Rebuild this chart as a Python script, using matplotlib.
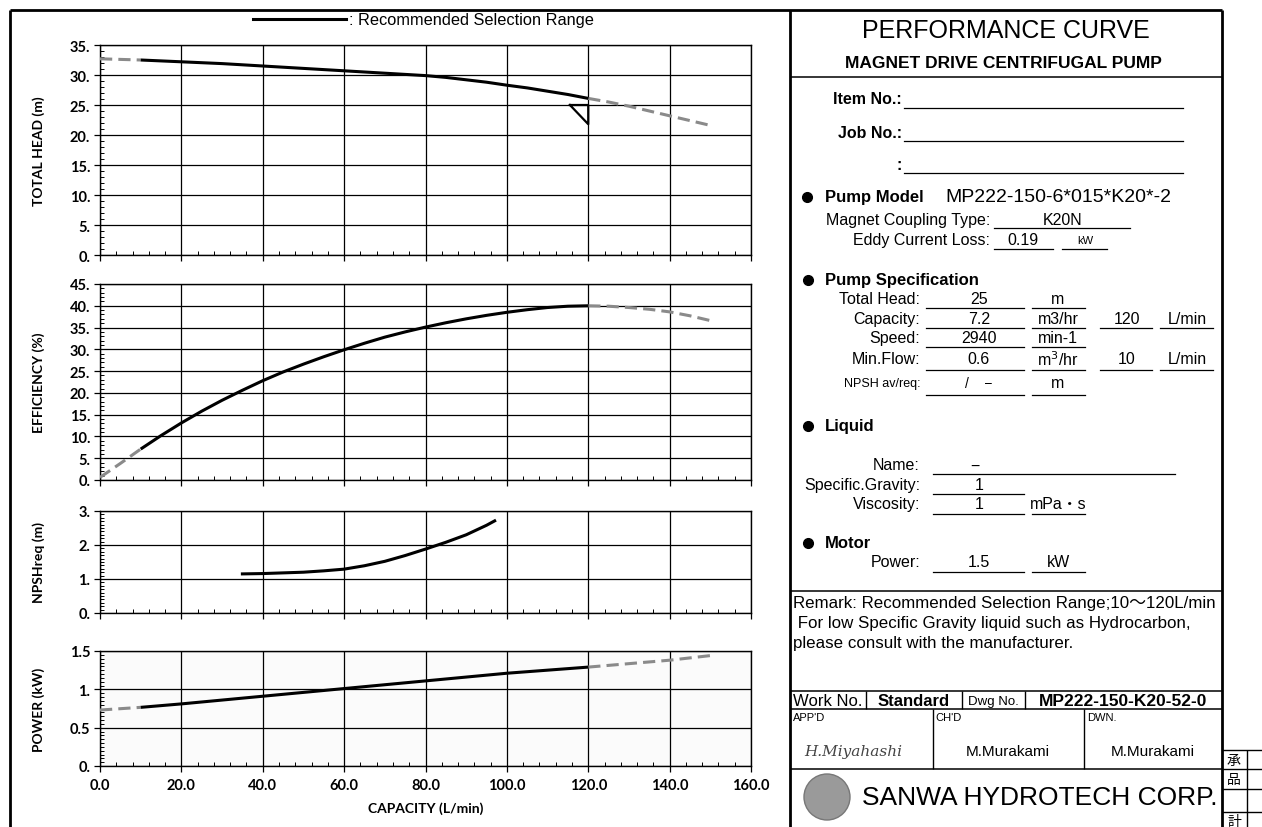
import numpy as np
import matplotlib
matplotlib.use("Agg")
import matplotlib.pyplot as plt
from matplotlib.ticker import MultipleLocator, FuncFormatter
from matplotlib.patches import Circle

q_head = [0, 10, 20, 30, 40, 50, 60, 70, 80, 85, 90, 95, 100, 105, 110, 115, 120,
          125, 130, 135, 140, 145, 150]
head = [32.7, 32.5, 32.2, 31.9, 31.5, 31.1, 30.7, 30.3, 29.9, 29.6, 29.2, 28.8, 28.3,
        27.85, 27.3, 26.75, 26.1, 25.5, 24.8, 24.0, 23.2, 22.4, 21.6]

q_eff = [0, 5, 10, 15, 20, 25, 30, 35, 40, 45, 50, 55, 60, 65, 70, 75, 80, 85, 90,
         95, 100, 105, 110, 115, 120, 125, 130, 135, 140, 145, 150]
eff = [0.6, 3.8, 7.1, 10.2, 13.1, 15.8, 18.3, 20.6, 22.8, 24.8, 26.6, 28.3, 29.9,
       31.4, 32.8, 34.0, 35.1, 36.1, 37.0, 37.8, 38.5, 39.1, 39.6, 39.9, 40.0, 39.9,
       39.6, 39.2, 38.6, 37.7, 36.6]

q_npsh = [35, 40, 45, 50, 55, 60, 65, 70, 75, 80, 85, 90, 95, 97]
npsh = [1.15, 1.16, 1.18, 1.20, 1.24, 1.29, 1.39, 1.52, 1.69, 1.88, 2.08, 2.30, 2.58, 2.71]

q_pow = [0, 10, 20, 30, 40, 50, 60, 70, 80, 90, 100, 110, 120, 130, 140, 150]
power = [0.73, 0.765, 0.81, 0.86, 0.91, 0.96, 1.01, 1.06, 1.11, 1.16, 1.21, 1.25, 1.29,
         1.335, 1.38, 1.44]

rec_min, rec_max = 10, 120      # recommended selection range (L/min)
duty_q, duty_h = 120, 25        # duty point

W, H = 1262, 828
fig = plt.figure(figsize=(W / 100, H / 100), dpi=100)

# background axes in pixel coordinates for frame and title block
bg = fig.add_axes([0, 0, 1, 1])
bg.set_xlim(0, W)
bg.set_ylim(H, 0)
bg.axis("off")
bg.patch.set_alpha(0)

TXT = ["Liberation Sans", "Noto Sans CJK JP", "DejaVu Sans"]
AXF = ["Lato", "DejaVu Sans"]


def px_axes(x0, y0, x1, y1):
    return fig.add_axes([x0 / W, 1 - y1 / H, (x1 - x0) / W, (y1 - y0) / H])


def draw_curve(ax, q, v, split=True):
    q = np.array(q, float)
    v = np.array(v, float)
    if split:
        lo = q <= rec_min
        hi = q >= rec_max
        mid = (q >= rec_min) & (q <= rec_max)
        for m in (lo, hi):
            if m.sum() > 1:
                ax.plot(q[m], v[m], color="#8a8a8a", lw=2.2, ls=(0, (4, 2)), zorder=3)
        ax.plot(q[mid], v[mid], color="black", lw=2.2, zorder=4, solid_capstyle="butt")
    else:
        ax.plot(q, v, color="black", lw=2.2, zorder=4)


def style_axes(ax, ymax, ymaj, ymin_, fmt, label, xlabels=False):
    ax.set_xlim(0, 160)
    ax.set_ylim(0, ymax)
    ax.xaxis.set_major_locator(MultipleLocator(20))
    ax.xaxis.set_minor_locator(MultipleLocator(4))
    ax.yaxis.set_major_locator(MultipleLocator(ymaj))
    ax.yaxis.set_minor_locator(MultipleLocator(ymin_))
    ax.grid(True, which="major", color="black", lw=0.9)
    ax.set_axisbelow(True)
    for s in ax.spines.values():
        s.set_linewidth(1.0)
        s.set_color("black")
    ax.tick_params(which="major", direction="out", length=4, width=0.9, pad=3)
    ax.tick_params(which="minor", direction="in", length=3, width=0.7)
    ax.yaxis.set_major_formatter(FuncFormatter(fmt))
    for tl in ax.get_yticklabels():
        tl.set_fontfamily(AXF)
        tl.set_fontweight("bold")
        tl.set_fontsize(10.5)
    if xlabels:
        ax.xaxis.set_major_formatter(FuncFormatter(lambda v, p: f"{v:.1f}"))
        for tl in ax.get_xticklabels():
            tl.set_fontfamily(AXF)
            tl.set_fontweight("bold")
            tl.set_fontsize(10.5)
        ax.tick_params(axis="x", which="major", pad=5)
        ax.set_xlabel("CAPACITY (L/min)", fontfamily=AXF, fontweight="bold", fontsize=10)
        ax.xaxis.set_label_coords(0.5, -0.31)
    else:
        ax.set_xticklabels([])
    ax.set_ylabel(label, fontfamily=AXF, fontweight="bold", fontsize=10)
    ax.yaxis.set_label_coords(-0.085, 0.5)


int_fmt = lambda v, p: f"{v:.0f}."
pow_fmt = lambda v, p: f"{v:.0f}." if abs(v - round(v)) < 1e-6 else f"{v:.1f}"

ax1 = px_axes(100, 46, 751, 256)
draw_curve(ax1, q_head, head)
ax1.plot([duty_q - 4.5, duty_q, duty_q, duty_q - 4.5],
         [duty_h, duty_h, duty_h - 3.2, duty_h], color="black", lw=1.6, zorder=5)
style_axes(ax1, 35, 5, 1, int_fmt, "TOTAL HEAD (m)")

ax2 = px_axes(100, 285, 751, 481)
draw_curve(ax2, q_eff, eff)
style_axes(ax2, 45, 5, 1, int_fmt, "EFFICIENCY (%)")

ax3 = px_axes(100, 512, 751, 614)
draw_curve(ax3, q_npsh, npsh, split=False)
style_axes(ax3, 3, 1, 0.1, int_fmt, "NPSHreq (m)")

ax4 = px_axes(100, 652, 751, 767)
ax4.set_facecolor("#fbfbfb")
draw_curve(ax4, q_pow, power)
style_axes(ax4, 1.5, 0.5, 0.05, pow_fmt, "POWER (kW)", xlabels=True)

# legend line at top
bg.plot([253, 346], [20, 20], color="black", lw=2.2)
bg.text(349, 20, ": Recommended Selection Range", fontsize=11.8, family=TXT, va="center", ha="left")

# ---- frame ----
K = dict(color="black", solid_capstyle="butt")
bg.plot([10, 1222], [11, 11], lw=2, **K)
bg.plot([10, 10], [11, H], lw=2, **K)
bg.plot([790, 790], [11, H], lw=2, **K)
bg.plot([1222, 1222], [11, H], lw=2, **K)
for y in (78, 592, 692, 710, 770):
    bg.plot([790, 1222], [y, y], lw=1.1, **K)
for x in (866, 962, 1025):
    bg.plot([x, x], [692, 710], lw=1.0, **K)
for x in (933, 1084):
    bg.plot([x, x], [710, 770], lw=1.0, **K)

# small stamp table
bg.plot([1222, 1262], [751, 751], lw=1.0, **K)
for y in (770, 790, 813):
    bg.plot([1222, 1262], [y, y], lw=1.0, **K)
bg.plot([1247, 1247], [751, H], lw=1.0, **K)
for ch, y in (("承", 761), ("品", 780), ("計", 822)):
    bg.text(1234, y, ch, fontsize=10, family=["Noto Sans CJK JP"], ha="center", va="center")


def t(x, y, s, size=11.5, ha="left", weight="normal", **kw):
    bg.text(x, y, s, fontsize=size, ha=ha, va="center", family=TXT, fontweight=weight, **kw)


def uline(x0, x1, y):
    bg.plot([x0, x1], [y, y], color="black", lw=0.9)


# ---- title block ----
t(1006, 31, "PERFORMANCE CURVE", size=18, ha="center")
t(1003, 63, "MAGNET DRIVE CENTRIFUGAL PUMP", size=12.5, ha="center", weight="bold")

t(902, 100, "Item No.:", size=11.5, ha="right", weight="bold")
uline(904, 1183, 109)
t(902, 133, "Job No.:", size=11.5, ha="right", weight="bold")
uline(904, 1183, 142)
t(902, 165, ":", size=11.5, ha="right", weight="bold")
uline(904, 1183, 174)

bg.plot([807], [198], "o", color="black", ms=7)
t(825, 198, "Pump Model", size=12, weight="bold")
t(945, 198, "MP222-150-6*015*K20*-2", size=14)
t(990, 221, "Magnet Coupling Type:", size=11.5, ha="right")
t(1063, 221, "K20N", size=11.5, ha="center")
uline(994, 1130, 229)
t(990, 241, "Eddy Current Loss:", size=11.5, ha="right")
t(1023, 241, "0.19", size=11.5, ha="center")
uline(994, 1053, 250)
t(1085, 241, "kW", size=8, ha="center")
uline(1062, 1107, 250)

bg.plot([808], [281], "o", color="black", ms=7)
t(825, 281, "Pump Specification", size=12, weight="bold")

spec = [("Total Head:", "25", "m", None, None, 300, 309),
        ("Capacity:", "7.2", "m3/hr", "120", "L/min", 320, 329),
        ("Speed:", "2940", "min-1", None, None, 339, 348),
        ("Min.Flow:", "0.6", "m$^3$/hr", "10", "L/min", 360, 371)]
for lab, val, unit, val2, unit2, ty, uy in spec:
    t(920, ty, lab, ha="right")
    t(979, ty, val, ha="center")
    uline(926, 1024, uy)
    t(1058, ty, unit, ha="center")
    uline(1032, 1085, uy)
    if val2:
        t(1127, ty, val2, ha="center")
        uline(1100, 1152, uy)
        t(1187, ty, unit2, ha="center")
        uline(1160, 1213, uy)
t(920, 384, "NPSH av/req:", size=9, ha="right")
t(979, 384, "/    −", size=10, ha="center")
uline(926, 1024, 396)
t(1058, 384, "m", ha="center")
uline(1032, 1085, 396)

bg.plot([808], [427], "o", color="black", ms=7)
t(825, 427, "Liquid", size=12, weight="bold")
t(920, 466, "Name:", ha="right")
t(975, 466, "−", ha="center")
uline(933, 1175, 475)
t(920, 486, "Specific.Gravity:", ha="right")
t(979, 486, "1", ha="center")
uline(933, 1024, 495)
t(920, 505, "Viscosity:", ha="right")
t(979, 505, "1", ha="center")
uline(933, 1024, 515)
t(1058, 505, "mPa・s", ha="center")
uline(1032, 1085, 515)

bg.plot([808], [544], "o", color="black", ms=7)
t(825, 544, "Motor", size=12, weight="bold")
t(920, 563, "Power:", ha="right")
t(979, 563, "1.5", ha="center")
uline(933, 1024, 573)
t(1058, 563, "kW", ha="center")
uline(1032, 1085, 573)

# remarks
t(793, 604, "Remark: Recommended Selection Range;10～120L/min", size=12.2)
t(793, 624, " For low Specific Gravity liquid such as Hydrocarbon,", size=12.2)
t(793, 644, "please consult with the manufacturer.", size=12.2)

t(793, 702, "Work No.", size=12)
t(914, 702, "Standard", size=12, ha="center", weight="bold")
t(993, 702, "Dwg No.", size=9.5, ha="center")
t(1123, 702, "MP222-150-K20-52-0", size=12.5, ha="center", weight="bold")
t(793, 718, "APP'D", size=8)
t(935, 718, "CH'D", size=8)
t(1087, 718, "DWN.", size=8)
bg.text(853, 752, "H.Miyahashi", fontsize=11, ha="center", va="center",
        family=["DejaVu Serif"], style="italic", color="#444444")
t(1008, 752, "M.Murakami", size=11, ha="center")
t(1153, 752, "M.Murakami", size=11, ha="center")

bg.add_patch(Circle((827, 798), 23, facecolor="#9a9a9a", edgecolor="#777777", lw=1))
t(1040, 798, "SANWA HYDROTECH CORP.", size=19, ha="center")

fig.savefig("out.png", dpi=100)
